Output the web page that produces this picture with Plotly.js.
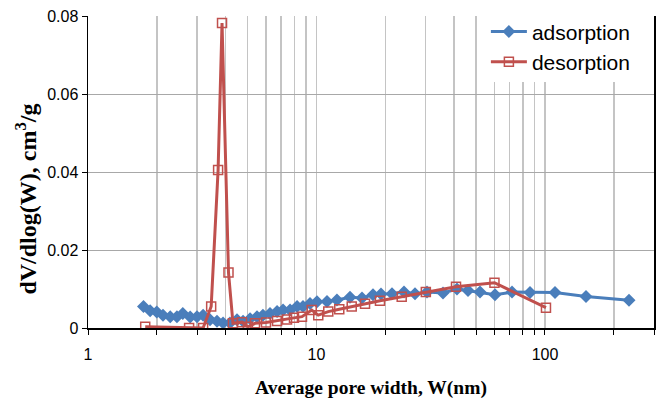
<!DOCTYPE html>
<html>
<head>
<meta charset="utf-8">
<script src="https://cdn.plot.ly/plotly-3.0.1.min.js"></script>
<style>html,body{margin:0;padding:0;background:#fff;}#chart{width:659px;height:399px;}</style>
</head>
<body>
<div id="chart"></div>
<script>
// Adsorption branch: pore width (nm) and dV/dlog(W) (cm3/g)
const adsW = [1.75, 1.87, 2.00, 2.13, 2.29, 2.45, 2.60, 2.80, 3.00, 3.19, 3.42, 3.67, 3.90, 4.18, 4.49, 4.77, 5.12, 5.49, 5.83, 6.26, 6.72, 7.14, 7.66, 8.22, 8.73, 9.37, 10.05, 11.12, 12.29, 14.02, 15.82, 17.67, 19.16, 21.40, 24.15, 26.98, 30.45, 35.78, 41.19, 46.03, 51.94, 60.42, 71.73, 86.0, 110.6, 151.2, 233.2];
const adsV = [0.0055, 0.0044, 0.0041, 0.0033, 0.0029, 0.0029, 0.0037, 0.0028, 0.0029, 0.0033, 0.0021, 0.0017, 0.0013, 0.0013, 0.0021, 0.0017, 0.0024, 0.0029, 0.0033, 0.0037, 0.0042, 0.0046, 0.0046, 0.0055, 0.0055, 0.0063, 0.0067, 0.0068, 0.0072, 0.0079, 0.0077, 0.0085, 0.0087, 0.0088, 0.0092, 0.0088, 0.0092, 0.0090, 0.0100, 0.0096, 0.0092, 0.0085, 0.0092, 0.0091, 0.0091, 0.0081, 0.0071];

// Desorption branch
const desW = [1.78, 2.77, 3.19, 3.46, 3.71, 3.86, 4.12, 4.31, 4.72, 5.01, 5.38, 6.01, 6.72, 7.43, 7.97, 8.64, 9.53, 10.18, 11.26, 12.58, 14.26, 16.31, 18.96, 23.6, 30.1, 40.8, 60.1, 101];
const desV = [0.0003, 0.0000, 0.0000, 0.0055, 0.0405, 0.0782, 0.0142, 0.0012, 0.0015, 0.0003, 0.0012, 0.0014, 0.0018, 0.0022, 0.0026, 0.0029, 0.0046, 0.0033, 0.0042, 0.0048, 0.0055, 0.0062, 0.0070, 0.0080, 0.0092, 0.0106, 0.0116, 0.0052];

// Axis ticks
const xTickVals = [1,2,3,4,5,6,7,8,9,10,20,30,40,50,60,70,80,90,100,200,300];
const xTickText = ['1','','','','','','','','','10','','','','','','','','','100','',''];
const yTickVals = [0, 0.02, 0.04, 0.06, 0.08];
const yTickText = ['0', '0.02', '0.04', '0.06', '0.08'];

const xTitle = 'Average pore width, W(nm)';
const yTitle = 'dV/dlog(W), cm<sup>3</sup>/g';

const traces = [
  {
    x: adsW, y: adsV, name: 'adsorption', type: 'scatter', mode: 'lines+markers',
    line: {color: '#4a7ebb', width: 3},
    marker: {symbol: 'diamond', size: 10, color: '#4a7ebb'}
  },
  {
    x: desW, y: desV, name: 'desorption', type: 'scatter', mode: 'lines+markers',
    line: {color: '#c0504d', width: 3},
    marker: {symbol: 'square-open', size: 9, color: '#c0504d', line: {width: 1.5, color: '#c0504d'}}
  }
];

const layout = {
  width: 659, height: 399,
  margin: {l: 88, r: 5, t: 16, b: 71},
  paper_bgcolor: '#ffffff', plot_bgcolor: '#ffffff',
  font: {family: 'Liberation Sans, Arial, sans-serif', size: 16, color: '#000'},
  showlegend: true,
  legend: {
    x: 0.968, xanchor: 'right', y: 1.015, yanchor: 'top',
    bgcolor: '#ffffff', borderwidth: 0,
    font: {family: 'Liberation Sans, Arial, sans-serif', size: 21, color: '#000'},
    itemwidth: 36, tracegroupgap: 0
  },
  xaxis: {
    type: 'log', range: [0, Math.log10(300)],
    tickmode: 'array', tickvals: xTickVals, ticktext: xTickText,
    showgrid: true, gridcolor: '#c4c4c4', gridwidth: 1.5,
    showline: true, linecolor: '#000', linewidth: 1.5,
    ticks: 'outside', ticklen: 5, tickcolor: '#000', tickwidth: 1,
    ticklabelstandoff: 6,
    tickfont: {size: 16, color: '#000'},
    zeroline: false,
    title: {text: xTitle, font: {family: 'Liberation Serif, Times New Roman, serif', size: 19.5, color: '#000', weight: 'bold'}, standoff: 20}
  },
  yaxis: {
    range: [0, 0.08],
    tickmode: 'array', tickvals: yTickVals, ticktext: yTickText,
    showgrid: true, gridcolor: '#a8a8a8', gridwidth: 1,
    showline: true, linecolor: '#000', linewidth: 1.5, mirror: true,
    ticks: 'outside', ticklen: 5, tickcolor: '#000', tickwidth: 1,
    tickfont: {size: 16, color: '#000'},
    zeroline: false
  },
  annotations: [
    {
      text: yTitle, textangle: -90, showarrow: false,
      xref: 'paper', yref: 'paper', x: -0.11, y: 0.414,
      xanchor: 'center', yanchor: 'middle',
      font: {family: 'Liberation Serif, Times New Roman, serif', size: 24, color: '#000', weight: 'bold'}
    }
  ]
};

Plotly.newPlot('chart', traces, layout, {displayModeBar: false, staticPlot: true});
</script>
</body>
</html>
